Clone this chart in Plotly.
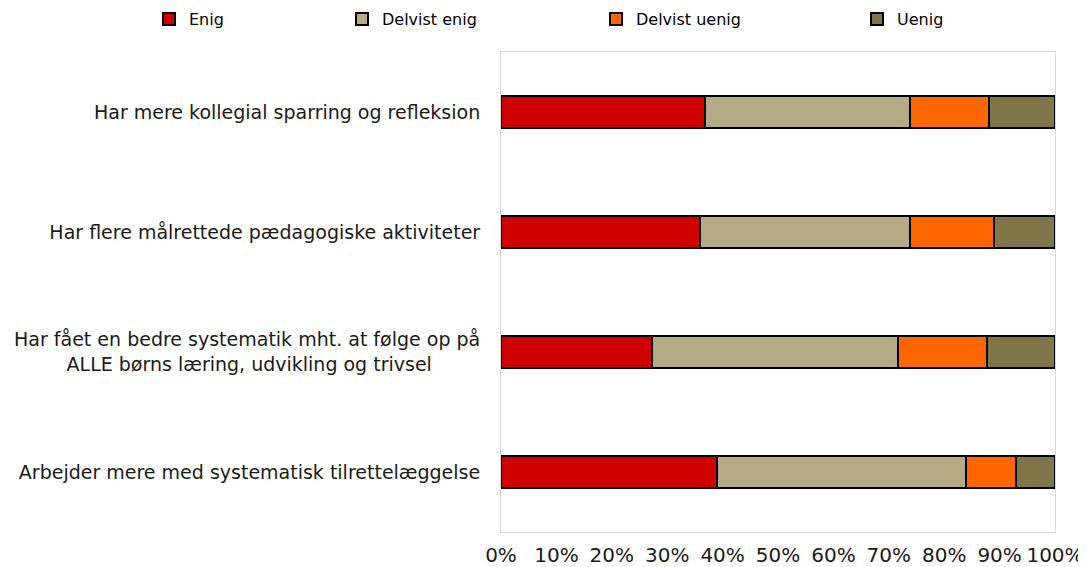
import plotly.graph_objects as go

NB = "\u00a0"
categories = [
    "Har mere kollegial sparring og refleksion",
    "Har flere målrettede pædagogiske aktiviteter",
    "Har fået en bedre systematik mht. at følge op på<br>ALLE børns læring, udvikling og trivsel" + NB * 8,
    "Arbejder mere med systematisk tilrettelæggelse",
]
series_names = ["Enig", "Delvist enig", "Delvist uenig", "Uenig"]
enig = [36.9, 35.9, 27.2, 38.9]
delvist_enig = [37.0, 38.0, 44.5, 45.0]
delvist_uenig = [14.1, 15.1, 16.1, 9.1]
uenig = [12.0, 11.0, 12.2, 7.0]
tick_vals = [0, 10, 20, 30, 40, 50, 60, 70, 80, 90, 100]
tick_text = ["0%", "10%", "20%", "30%", "40%", "50%", "60%", "70%", "80%", "90%", "100%"]

values = [enig, delvist_enig, delvist_uenig, uenig]
colors = ["#D10000", "#B5AC85", "#FF6600", "#807548"]
legend_ids = ["legend", "legend2", "legend3", "legend4"]
legend_text_px = [186, 379, 633, 894]

OFF = 8  # page body margin
W, H = 1086 - OFF, 567 - OFF
FONT = "DejaVu Sans"

fig = go.Figure()
for name, vals, col, lid in zip(series_names, values, colors, legend_ids):
    fig.add_trace(go.Bar(
        y=categories, x=vals, name=name, orientation="h",
        marker=dict(color=col, line=dict(color="#000000", width=2)),
        width=0.27, legend=lid, showlegend=True,
    ))

layout_legends = {}
for lid, px in zip(legend_ids, legend_text_px):
    layout_legends[lid] = dict(
        x=(px - 37 - OFF) / W, xref="container",
        y=1 - (19 - OFF) / H, yref="container",
        xanchor="left", yanchor="middle", orientation="h",
        font=dict(family=FONT, size=16, color="#000000"),
        itemwidth=30, bgcolor="rgba(0,0,0,0)", borderwidth=0,
        visible=True,
    )

fig.update_layout(
    width=W, height=H,
    barmode="stack",
    showlegend=True,
    plot_bgcolor="white", paper_bgcolor="white",
    margin=dict(l=501 - OFF, r=31, t=52 - OFF, b=35, autoexpand=False),
    font=dict(family=FONT, size=17, color="#1a1a1a"),
    **layout_legends,
)
fig.update_xaxes(
    range=[0, 100], tickvals=tick_vals, ticktext=tick_text,
    showgrid=False, zeroline=False,
    showline=True, linecolor="#D9D9D9", linewidth=1, mirror=True,
    ticks="", ticklabelstandoff=5,
    tickfont=dict(family=FONT, size=20, color="#1a1a1a"),
)
fig.update_yaxes(
    autorange="reversed", showgrid=False, zeroline=False,
    showline=True, linecolor="#D9D9D9", linewidth=1, mirror=True,
    ticks="", ticklabelstandoff=16,
    tickfont=dict(family=FONT, size=19, color="#1a1a1a"),
)

fig.write_html("out.html")
